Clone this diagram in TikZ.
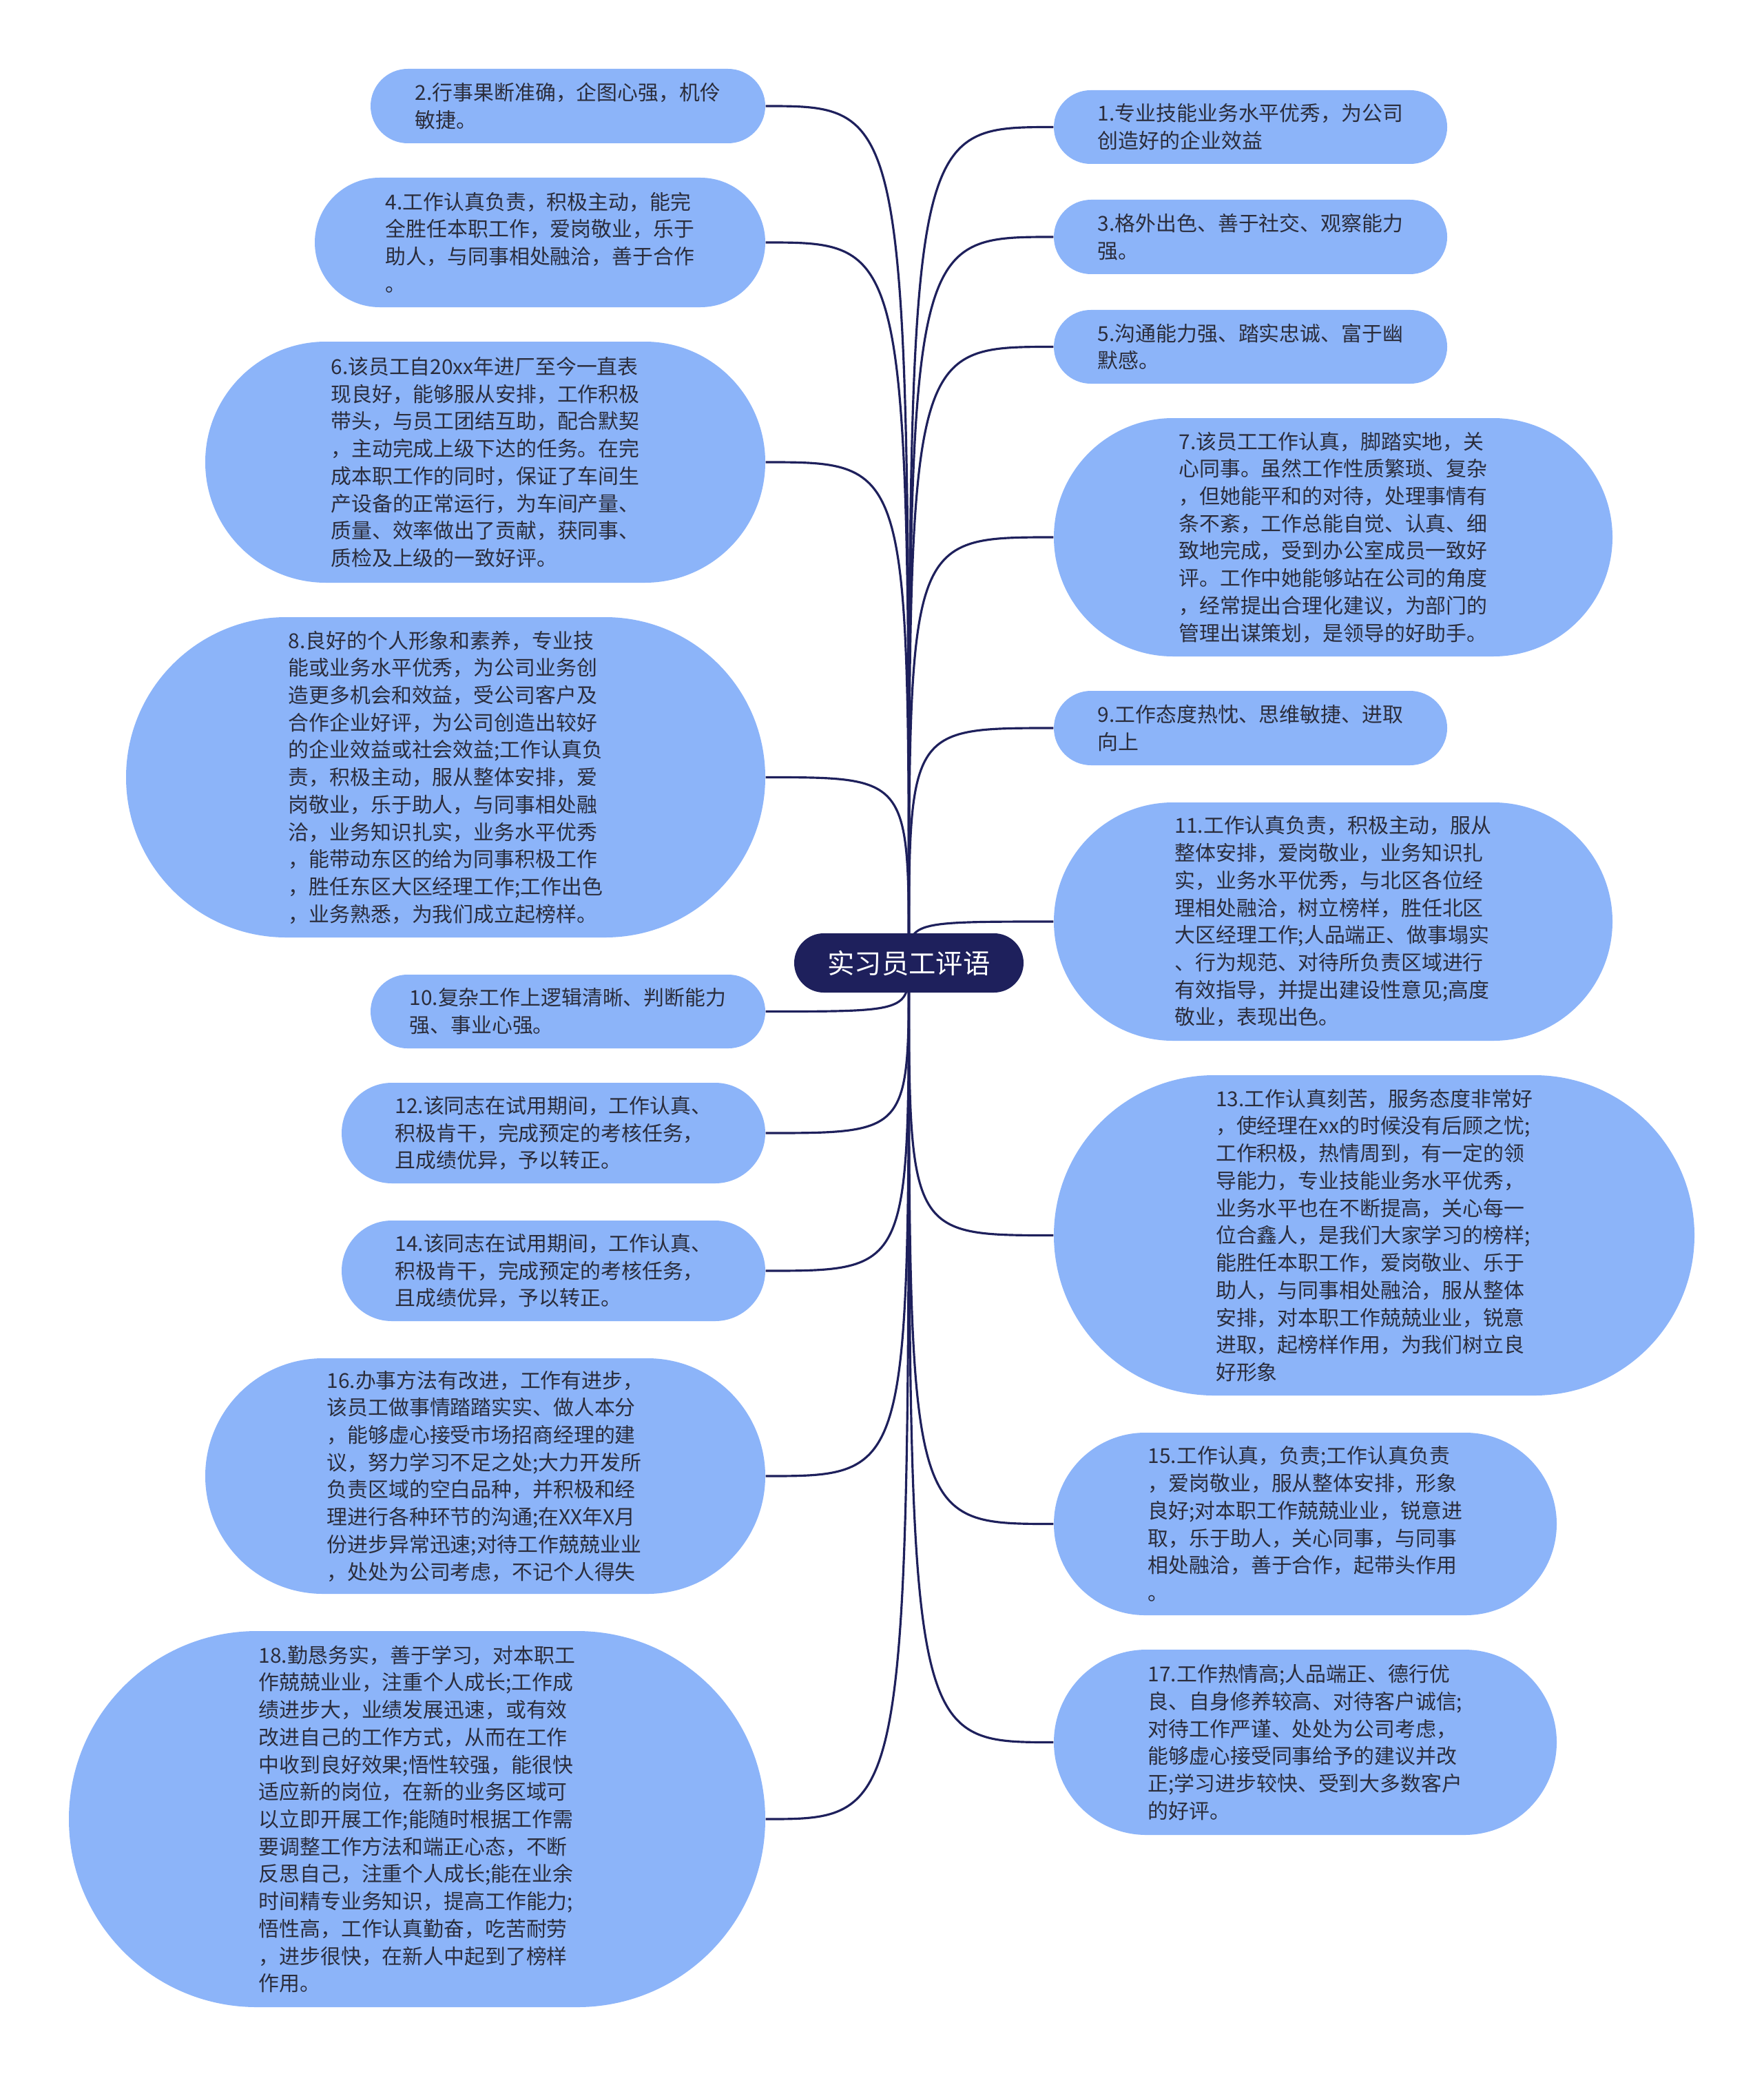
\documentclass[tikz,border=0pt]{standalone}
\usepackage{fontspec}
\setmainfont{Noto Sans CJK SC}
\usetikzlibrary{backgrounds}
\definecolor{leafblue}{HTML}{8CB4F9}
\definecolor{inkgray}{HTML}{2B2D3C}
\definecolor{rootnavy}{HTML}{1E205C}
\begin{document}
\begin{tikzpicture}[
  leaf/.style={fill=leafblue, text=inkgray, align=left, inner sep=0pt,
    font=\fontsize{8.5}{11.3}\selectfont},
  pill/.style 2 args={minimum width=#1, minimum height=#2, rounded corners=0.5*#2},
  link/.style={draw=rootnavy, line width=0.9pt}
]
  \node[fill=rootnavy, text=white, pill={3.33cm}{0.86cm},
    font=\fontsize{11.2}{13}\selectfont] (root) at (13.195,-13.98) {实习员工评语};

  \node[leaf, pill={5.73cm}{1.08cm}] (c2) at (8.245,-1.54) {2.行事果断准确，企图心强，机伶\\敏捷。};
  \node[leaf, pill={6.54cm}{1.88cm}] (c4) at (7.84,-3.52) {4.工作认真负责，积极主动，能完\\全胜任本职工作，爱岗敬业，乐于\\助人，与同事相处融洽，善于合作\\。};
  \node[leaf, pill={8.13cm}{3.50cm}] (c6) at (7.045,-6.71) {6.该员工自20xx年进厂至今一直表\\现良好，能够服从安排，工作积极\\带头，与员工团结互助，配合默契\\，主动完成上级下达的任务。在完\\成本职工作的同时，保证了车间生\\产设备的正常运行，为车间产量、\\质量、效率做出了贡献，获同事、\\质检及上级的一致好评。};
  \node[leaf, pill={9.28cm}{4.65cm}] (c8) at (6.47,-11.285) {8.良好的个人形象和素养，专业技\\能或业务水平优秀，为公司业务创\\造更多机会和效益，受公司客户及\\合作企业好评，为公司创造出较好\\的企业效益或社会效益;工作认真负\\责，积极主动，服从整体安排，爱\\岗敬业，乐于助人，与同事相处融\\洽，业务知识扎实，业务水平优秀\\，能带动东区的给为同事积极工作\\，胜任东区大区经理工作;工作出色\\，业务熟悉，为我们成立起榜样。};
  \node[leaf, pill={5.73cm}{1.07cm}] (c10) at (8.245,-14.685) {10.复杂工作上逻辑清晰、判断能力\\强、事业心强。};
  \node[leaf, pill={6.15cm}{1.46cm}] (c12) at (8.035,-16.45) {12.该同志在试用期间，工作认真、\\积极肯干，完成预定的考核任务，\\且成绩优异，予以转正。};
  \node[leaf, pill={6.15cm}{1.46cm}] (c14) at (8.035,-18.45) {14.该同志在试用期间，工作认真、\\积极肯干，完成预定的考核任务，\\且成绩优异，予以转正。};
  \node[leaf, pill={8.13cm}{3.42cm}] (c16) at (7.045,-21.43) {16.办事方法有改进，工作有进步，\\该员工做事情踏踏实实、做人本分\\，能够虚心接受市场招商经理的建\\议，努力学习不足之处;大力开发所\\负责区域的空白品种，并积极和经\\理进行各种环节的沟通;在XX年X月\\份进步异常迅速;对待工作兢兢业业\\，处处为公司考虑，不记个人得失};
  \node[leaf, pill={10.11cm}{5.46cm}] (c18) at (6.055,-26.41) {18.勤恳务实，善于学习，对本职工\\作兢兢业业，注重个人成长;工作成\\绩进步大，业绩发展迅速，或有效\\改进自己的工作方式，从而在工作\\中收到良好效果;悟性较强，能很快\\适应新的岗位，在新的业务区域可\\以立即开展工作;能随时根据工作需\\要调整工作方法和端正心态，不断\\反思自己，注重个人成长;能在业余\\时间精专业务知识，提高工作能力;\\悟性高，工作认真勤奋，吃苦耐劳\\，进步很快，在新人中起到了榜样\\作用。};

  \node[leaf, pill={5.71cm}{1.07cm}] (c1) at (18.155,-1.845) {1.专业技能业务水平优秀，为公司\\创造好的企业效益};
  \node[leaf, pill={5.71cm}{1.08cm}] (c3) at (18.155,-3.44) {3.格外出色、善于社交、观察能力\\强。};
  \node[leaf, pill={5.71cm}{1.07cm}] (c5) at (18.155,-5.035) {5.沟通能力强、踏实忠诚、富于幽\\默感。};
  \node[leaf, pill={8.11cm}{3.46cm}] (c7) at (19.355,-7.80) {7.该员工工作认真，脚踏实地，关\\心同事。虽然工作性质繁琐、复杂\\，但她能平和的对待，处理事情有\\条不紊，工作总能自觉、认真、细\\致地完成，受到办公室成员一致好\\评。工作中她能够站在公司的角度\\，经常提出合理化建议，为部门的\\管理出谋策划，是领导的好助手。};
  \node[leaf, pill={5.71cm}{1.08cm}] (c9) at (18.155,-10.57) {9.工作态度热忱、思维敏捷、进取\\向上};
  \node[leaf, pill={8.11cm}{3.46cm}] (c11) at (19.355,-13.38) {11.工作认真负责，积极主动，服从\\整体安排，爱岗敬业，业务知识扎\\实，业务水平优秀，与北区各位经\\理相处融洽，树立榜样，胜任北区\\大区经理工作;人品端正、做事塌实\\、行为规范、对待所负责区域进行\\有效指导，并提出建设性意见;高度\\敬业，表现出色。};
  \node[leaf, pill={9.30cm}{4.65cm}] (c13) at (19.95,-17.935) {13.工作认真刻苦，服务态度非常好\\，使经理在xx的时候没有后顾之忧;\\工作积极，热情周到，有一定的领\\导能力，专业技能业务水平优秀，\\业务水平也在不断提高，关心每一\\位合鑫人，是我们大家学习的榜样;\\能胜任本职工作，爱岗敬业、乐于\\助人，与同事相处融洽，服从整体\\安排，对本职工作兢兢业业，锐意\\进取，起榜样作用，为我们树立良\\好形象};
  \node[leaf, pill={7.30cm}{2.65cm}] (c15) at (18.95,-22.125) {15.工作认真，负责;工作认真负责\\，爱岗敬业，服从整体安排，形象\\良好;对本职工作兢兢业业，锐意进\\取，乐于助人，关心同事，与同事\\相处融洽，善于合作，起带头作用\\。};
  \node[leaf, pill={7.30cm}{2.69cm}] (c17) at (18.95,-25.295) {17.工作热情高;人品端正、德行优\\良、自身修养较高、对待客户诚信;\\对待工作严谨、处处为公司考虑，\\能够虚心接受同事给予的建议并改\\正;学习进步较快、受到大多数客户\\的好评。};

  \begin{pgfonlayer}{background}
    \fill[white] (0,0) rectangle (25.6,-30.14);
    \foreach \n in {c2,c4,c6,c8,c10,c12,c14,c16,c18}
      \draw[link] (root.center) .. controls (root.center |- \n.east) .. (\n.east);
    \foreach \n in {c1,c3,c5,c7,c9,c11,c13,c15,c17}
      \draw[link] (root.center) .. controls (root.center |- \n.west) .. (\n.west);
  \end{pgfonlayer}
  \useasboundingbox (0,0) rectangle (25.6,-30.14);
\end{tikzpicture}
\end{document}
